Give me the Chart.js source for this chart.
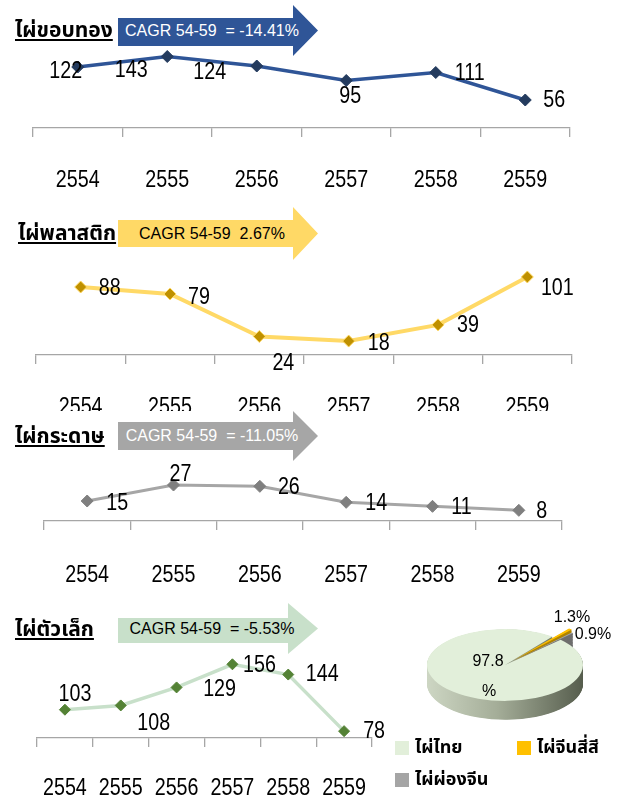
<!DOCTYPE html>
<html>
<head>
<meta charset="utf-8">
<script src="https://cdn.jsdelivr.net/npm/chart.js@4"></script>
<style>
  html, body { margin: 0; padding: 0; background: #fff; }
  body { width: 627px; height: 799px; position: relative; overflow: hidden;
         font-family: "Liberation Sans", Arial, sans-serif; }
  .wrap { position: absolute; left: 0; width: 627px; overflow: hidden; }
  .wrap canvas { position: absolute; left: 0; top: 0; }
  .title { position: absolute; font-weight: bold; font-size: 21px; line-height: 26px;
           text-decoration: underline; text-underline-offset: 2px; color: #000; white-space: nowrap;
           font-family: "Noto Sans Thai", "Noto Sans", "DejaVu Sans", sans-serif; }
  .arrow { position: absolute; left: 118px; width: 200px; }
  .arrow span { position: absolute; left: 0; width: 188px; top: 50%; transform: translateY(-50%);
                text-align: center; font-size: 16px; white-space: pre; }
  #pieBox { position: absolute; left: 395px; top: 555px; }
  .legend { position: absolute; left: 395px; top: 736px; display: grid;
            grid-template-columns: 122px auto; row-gap: 8px;
            font-family: "Noto Sans Thai", "Noto Sans", "DejaVu Sans", sans-serif;
            font-weight: bold; font-size: 18px; line-height: 24px; }
  .legend div { display: flex; align-items: center; white-space: nowrap; }
  .legend i { display: inline-block; width: 14px; height: 14px; margin-right: 6px; }
</style>
</head>
<body>

<div class="wrap" style="top:0;height:200px"><canvas id="c1" width="627" height="200"></canvas></div>
<div class="wrap" style="top:200px;height:211px"><canvas id="c2" width="627" height="225"></canvas></div>
<div class="wrap" style="top:411px;height:190px"><canvas id="c3" width="627" height="190"></canvas></div>
<div class="wrap" style="top:601px;height:198px"><canvas id="c4" width="627" height="198"></canvas></div>
<canvas id="pieBox" width="220" height="220"></canvas>

<div id="overlay"></div>
<div class="legend" id="legend"></div>

<script>
// ---- data ----
const years = ['2554', '2555', '2556', '2557', '2558', '2559'];

const goldEdge = [122, 143, 124, 95, 111, 56];   // ไผ่ขอบทอง
const plastic  = [88, 79, 24, 18, 39, 101];      // ไผ่พลาสติก
const paper    = [15, 27, 26, 14, 11, 8];        // ไผ่กระดาษ
const small    = [103, 108, 129, 156, 144, 78];  // ไผ่ตัวเล็ก

const panelTitles = ['ไผ่ขอบทอง', 'ไผ่พลาสติก', 'ไผ่กระดาษ', 'ไผ่ตัวเล็ก'];
const cagrTexts = ['CAGR 54-59  = -14.41%', 'CAGR 54-59  2.67%', 'CAGR 54-59  = -11.05%', 'CAGR 54-59  = -5.53%'];

const pieLabels = ['ไผ่ไทย', 'ไผ่จีนสี่สี', 'ไผ่ผ่องจีน'];
const pieValues = [97.8, 1.3, 0.9];

// ---- styling ----
const NUM_FONT = '24px "Liberation Sans", Arial, sans-serif';
const NARROW_X = 0.82;   // horizontal squeeze for the narrow number face
const pieColors = ['#E2EFDA', '#FFC000', '#A5A5A5'];
const pieSides  = [null, '#B08400', '#6F6F6F'];

// value label placement (offset from each marker)
const goldEdgeShift = [[-12, 4], [-36, 14], [-47, 6], [4, 16], [34, 1], [29, 0]];
const plasticShift  = [[29, 1], [29, 3], [24, 27], [30, 2], [30, 1], [30, 11]];
const paperShift    = [[30, 2], [7, -11], [29, 1], [30, 1], [29, 1], [23, 1]];
const smallShift    = [[10, -15], [33, 18], [43, 2], [27, 1], [34, 0], [30, 0]];

function narrowText(ctx, text, x, y) {
  ctx.save();
  ctx.translate(x, y);
  ctx.scale(NARROW_X, 1);
  ctx.fillText(text, 0, 0);
  ctx.restore();
}

// marker values and year labels in the narrow number face
const numberText = {
  id: 'numberText',
  afterDraw(chart, args, opts) {
    const ctx = chart.ctx;
    const meta = chart.getDatasetMeta(0);
    const vals = chart.data.datasets[0].data;
    const sx = chart.scales.x;
    ctx.save();
    ctx.font = NUM_FONT;
    ctx.fillStyle = '#000';
    ctx.textAlign = 'center';
    ctx.textBaseline = 'middle';
    meta.data.forEach((pt, i) => {
      const s = opts.shift[i];
      narrowText(ctx, String(vals[i]), pt.x + s[0], pt.y + s[1]);
    });
    sx.ticks.forEach((t, i) => {
      narrowText(ctx, sx.getLabelForValue(t.value), sx.getPixelForTick(i), sx.top + opts.labelDy);
    });
    ctx.restore();
  }
};

function lineChart(id, c) {
  return new Chart(document.getElementById(id), {
    type: 'line',
    data: {
      labels: years,
      datasets: [{
        data: c.values,
        borderColor: c.line,
        borderWidth: c.lineWidth,
        pointStyle: 'rectRot',
        pointRadius: c.r,
        pointBackgroundColor: c.marker,
        pointBorderColor: c.edge,
        pointBorderWidth: 1,
        tension: 0,
        fill: false,
        clip: false
      }]
    },
    options: {
      responsive: false,
      animation: false,
      events: [],
      layout: { autoPadding: false, padding: { left: c.left, right: 627 - c.right, top: c.top, bottom: 0 } },
      plugins: { legend: { display: false }, tooltip: { enabled: false }, numberText: { shift: c.shift, labelDy: c.labelDy } },
      scales: {
        x: {
          offset: true,
          grid: { offset: true, drawOnChartArea: false, drawTicks: true, tickLength: 9, color: '#A6A6A6', lineWidth: 1.3 },
          border: { display: true, color: '#A6A6A6', width: 1.3 },
          ticks: { display: false, autoSkip: false },
          afterFit(scale) { scale.height = c.scaleH; }
        },
        y: { display: false, min: c.min, max: c.max }
      }
    },
    plugins: [numberText]
  });
}

lineChart('c1', { values: goldEdge, shift: goldEdgeShift, line: '#2F5597', lineWidth: 3.5, marker: '#243B5E', edge: '#243B5E', r: 6,
  left: 33, right: 570, top: 53, min: 0, max: 150, labelDy: 52, scaleH: 72 });
lineChart('c2', { values: plastic, shift: plasticShift, line: '#FFD966', lineWidth: 4, marker: '#BF9000', edge: '#FFD966', r: 6,
  left: 36, right: 572, top: 70, min: 0, max: 110, labelDy: 52, scaleH: 70 });
lineChart('c3', { values: paper, shift: paperShift, line: '#A6A6A6', lineWidth: 3, marker: '#7F7F7F', edge: '#7F7F7F', r: 6,
  left: 44, right: 562, top: 70, min: 0, max: 30, labelDy: 54, scaleH: 80 });
lineChart('c4', { values: small, shift: smallShift, line: '#C8E0CA', lineWidth: 3.5, marker: '#548235', edge: '#548235', r: 5.5,
  left: 37, right: 372, top: 47, min: 70, max: 175, labelDy: 50, scaleH: 61 });

// ---- titles and CAGR arrows ----
const arrowSpecs = [
  { top: 5,   h: 51, a: 13, c: 41, b: 175, bg: '#2F5597', fg: '#fff', tTop: 18, tLeft: 15 },
  { top: 207, h: 53, a: 13, c: 40, b: 175, bg: '#FFD966', fg: '#000', tTop: 221, tLeft: 18 },
  { top: 411, h: 50, a: 11, c: 39, b: 175, bg: '#A6A6A6', fg: '#fff', tTop: 424, tLeft: 15 },
  { top: 603, h: 51, a: 15, c: 40, b: 170, bg: '#C8E0CA', fg: '#000', tTop: 617, tLeft: 15 }
];
const overlay = document.getElementById('overlay');
arrowSpecs.forEach((s, i) => {
  const a = document.createElement('div');
  a.className = 'arrow';
  a.style.top = s.top + 'px';
  a.style.height = s.h + 'px';
  a.style.background = s.bg;
  a.style.clipPath = `polygon(0 ${s.a}px, ${s.b}px ${s.a}px, ${s.b}px 0, 100% 50%, ${s.b}px 100%, ${s.b}px ${s.c}px, 0 ${s.c}px)`;
  const sp = document.createElement('span');
  sp.style.color = s.fg;
  sp.textContent = cagrTexts[i];
  a.appendChild(sp);
  overlay.appendChild(a);

  const t = document.createElement('div');
  t.className = 'title';
  t.style.left = s.tLeft + 'px';
  t.style.top = s.tTop + 'px';
  t.textContent = panelTitles[i];
  overlay.appendChild(t);
});

// ---- tilted pie ----
const TILT = 0.46, DEPTH = 19;
const tiltPie = {
  id: 'tiltPie',
  beforeDatasetsDraw(chart) {
    const ctx = chart.ctx;
    const arcs = chart.getDatasetMeta(0).data;
    const cx = arcs[0].x, cy = arcs[0].y, R = arcs[0].outerRadius;
    ctx.save();
    ctx.translate(cx, cy); ctx.scale(1, TILT); ctx.translate(-cx, -cy);
    const g = ctx.createLinearGradient(cx - R, 0, cx + R, 0);
    g.addColorStop(0, '#CDD6C3');
    g.addColorStop(0.45, '#A4AD98');
    g.addColorStop(1, '#565D4D');
    const steps = Math.round(DEPTH / TILT);
    for (let t = steps; t >= 1; t--) {
      arcs.forEach((arc, i) => {
        const side = Object.create(arc);
        side.options = Object.assign({}, arc.options, { backgroundColor: pieSides[i] || g, borderWidth: 0 });
        ctx.save();
        ctx.translate(0, t);
        arc.draw.call(side, ctx);
        ctx.restore();
      });
    }
  },
  afterDatasetsDraw(chart) {
    const ctx = chart.ctx;
    ctx.restore();
    const arcs = chart.getDatasetMeta(0).data;
    const cx = arcs[0].x, cy = arcs[0].y;
    const v = chart.data.datasets[0].data;
    ctx.save();
    ctx.font = '16px "Liberation Sans", Arial, sans-serif';
    ctx.fillStyle = '#000';
    ctx.textAlign = 'center';
    ctx.textBaseline = 'middle';
    ctx.fillText(v[0].toFixed(1), cx - 17, cy - 3);
    ctx.fillText('%', cx - 16, cy + 27);
    ctx.fillText(v[1].toFixed(1) + '%', cx + 67, cy - 47);
    ctx.fillText(v[2].toFixed(1) + '%', cx + 88, cy - 30);
    ctx.restore();
  }
};

new Chart(document.getElementById('pieBox'), {
  type: 'pie',
  data: {
    labels: pieLabels,
    datasets: [{
      data: pieValues,
      backgroundColor: pieColors,
      borderWidth: 0,
      offset: [0, 50, 40],
      clip: false
    }]
  },
  options: {
    responsive: false,
    animation: false,
    events: [],
    rotation: 45.5,
    radius: 78,
    layout: { padding: 0 },
    plugins: { legend: { display: false }, tooltip: { enabled: false } }
  },
  plugins: [tiltPie]
});

// ---- legend ----
const legend = document.getElementById('legend');
pieLabels.forEach((name, i) => {
  const d = document.createElement('div');
  const sw = document.createElement('i');
  sw.style.background = pieColors[i];
  d.appendChild(sw);
  d.appendChild(document.createTextNode(name));
  legend.appendChild(d);
});
</script>
</body>
</html>
